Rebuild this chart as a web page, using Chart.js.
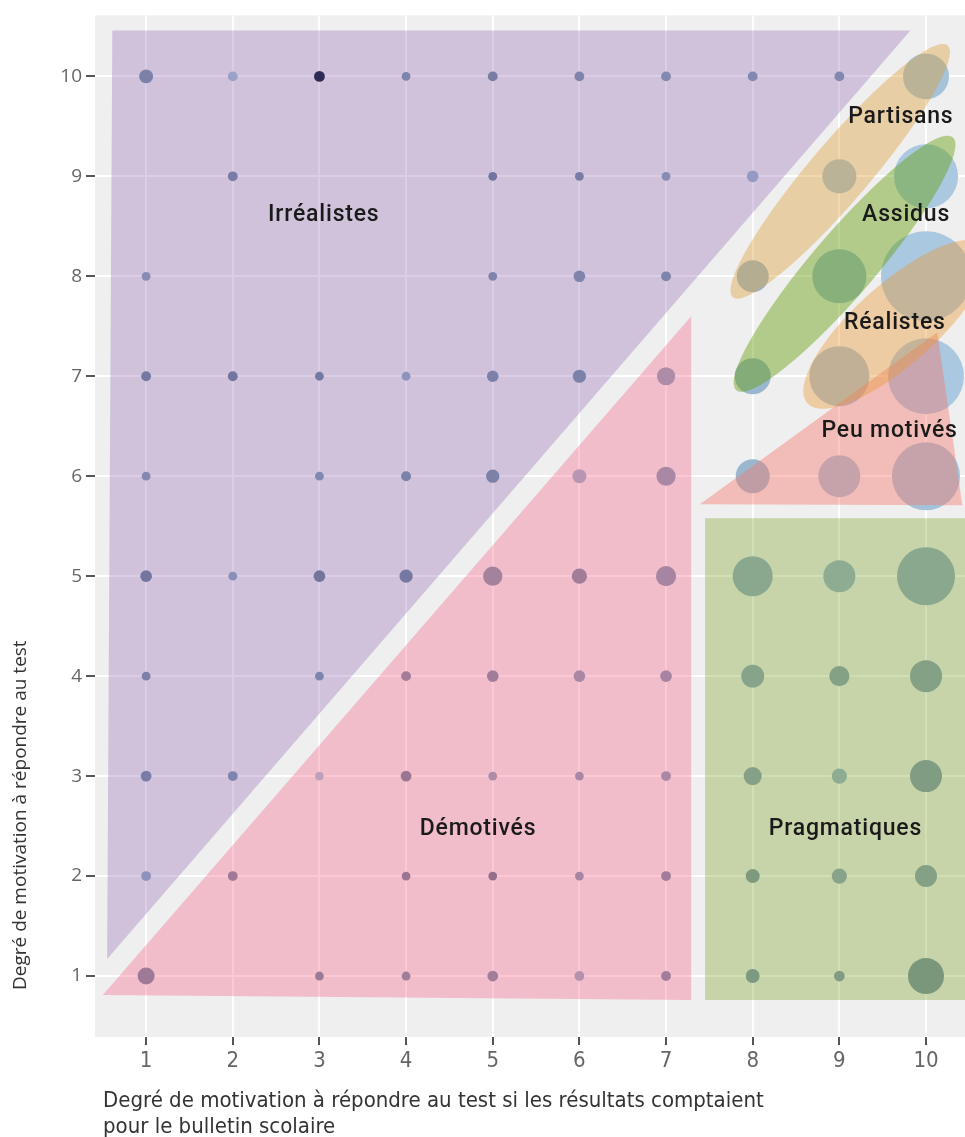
<!DOCTYPE html>
<html lang="fr">
<head>
<meta charset="utf-8">
<title>Motivation au test</title>
<script src="https://cdn.jsdelivr.net/npm/chart.js@4.4.1/dist/chart.umd.min.js"></script>
<style>
  html, body { margin: 0; padding: 0; background: #fff; }
  #cadre { width: 965px; height: 1137px; position: relative; }
</style>
</head>
<body>
<div id="cadre"><canvas id="graphique"></canvas></div>
<script>
// notes de 1 a 10 sur les deux axes
const notes = [1, 2, 3, 4, 5, 6, 7, 8, 9, 10];
// une ligne par valeur de y (de 10 en haut a 1 en bas)
const lignesY = [10, 9, 8, 7, 6, 5, 4, 3, 2, 1];

// effectifs par case (colonnes x = 1..10), null = pas d'eleve
const effectifs = [
  [10, 5, 6, 4, 5, 5, 5, 5, 5, 109],
  [null, 5, null, null, 4, 4, 4, 7, 60, 212],
  [4, null, null, null, 4, 7, 5, 53, 151, 418],
  [5, 5, 4, 4, 7, 9, 17, 67, 186, 298],
  [4, null, 4, 5, 9, 10, 19, 60, 91, 239],
  [7, 4, 7, 9, 19, 12, 21, 83, 53, 174],
  [4, null, 4, 5, 7, 7, 7, 27, 21, 53],
  [6, 5, 4, 6, 4, 4, 5, 17, 12, 53],
  [5, 5, null, 4, 4, 4, 5, 10, 12, 25],
  [15, null, 4, 4, 6, 5, 5, 10, 6, 67]
];

// valeur de la couleur des points (0 = fonce, 1 = clair)
const teintes = [
  [0.67, 0.94, 0.00, 0.70, 0.64, 0.70, 0.73, 0.73, 0.73, 0.94],
  [null, 0.64, null, null, 0.58, 0.64, 0.76, 0.88, 0.94, 0.97],
  [0.76, null, null, null, 0.70, 0.70, 0.70, 0.88, 0.91, 0.97],
  [0.61, 0.58, 0.61, 0.82, 0.67, 0.67, 0.76, 0.88, 0.94, 0.97],
  [0.73, null, 0.73, 0.67, 0.67, 0.85, 0.73, 0.88, 0.94, 0.94],
  [0.58, 0.79, 0.58, 0.61, 0.67, 0.64, 0.70, 0.82, 0.85, 0.82],
  [0.67, null, 0.70, 0.64, 0.64, 0.73, 0.70, 0.79, 0.76, 0.76],
  [0.64, 0.70, 0.94, 0.58, 0.76, 0.73, 0.73, 0.76, 0.85, 0.73],
  [0.82, 0.61, null, 0.58, 0.52, 0.70, 0.64, 0.70, 0.79, 0.76],
  [0.61, null, 0.61, 0.64, 0.64, 0.82, 0.64, 0.70, 0.73, 0.67]
];

// zones de profils (sommets en unites des axes)
const zones = [
  { couleur: 'rgba(133,90,170,0.30)', sommets: [[0.61, 10.46], [9.82, 10.46], [0.55, 1.17]] },
  { couleur: 'rgba(246,97,134,0.35)', sommets: [[0.50, 0.81], [7.29, 7.60], [7.29, 0.76]] },
  { couleur: 'rgba(126,160,40,0.35)', sommets: [[7.45, 5.58], [10.7, 5.58], [10.7, 0.76], [7.45, 0.76]] },
  { couleur: 'rgba(248,115,102,0.40)', sommets: [[7.39, 5.72], [10.13, 7.44], [10.42, 5.71]] }
];

// ellipses : extremites du grand axe, largeur relative
const ellipses = [
  { couleur: 'rgba(220,158,52,0.40)', de: [7.77, 7.79], a: [10.25, 10.31], largeur: 0.18 },
  { couleur: 'rgba(235,150,50,0.40)', de: [8.63, 6.73], a: [10.68, 8.31], largeur: 0.34 },
  { couleur: 'rgba(105,160,15,0.45)', de: [7.81, 6.86], a: [10.31, 9.39], largeur: 0.19 }
];

const etiquettes = [
  ['Irréalistes', 3.05, 8.61],
  ['Partisans', 9.71, 9.59],
  ['Assidus', 9.77, 8.61],
  ['Réalistes', 9.64, 7.53],
  ['Peu motivés', 9.58, 6.45],
  ['Démotivés', 4.83, 2.47],
  ['Pragmatiques', 9.07, 2.47]
];

const titreX = ['Degré de motivation à répondre au test si les résultats comptaient', 'pour le bulletin scolaire'];
const titreY = 'Degré de motivation à répondre au test';

function couleurPoint(t) {
  const fonce = [10, 25, 50], clair = [175, 205, 228];
  const c = fonce.map((v, i) => Math.round(v + (clair[i] - v) * t));
  return 'rgb(' + c.join(',') + ')';
}

const points = [];
const couleurs = [];
lignesY.forEach((y, i) => {
  notes.forEach((x, j) => {
    const n = effectifs[i][j];
    if (n == null) return;
    points.push({ x: x, y: y, r: 2.2 * Math.sqrt(n) });
    couleurs.push(couleurPoint(teintes[i][j]));
  });
});

const polygones = zones.map(z => ({
  type: 'line',
  data: z.sommets.concat([z.sommets[0]]).map(s => ({ x: s[0], y: s[1] })),
  backgroundColor: z.couleur,
  borderColor: 'rgba(0,0,0,0)',
  borderWidth: 0,
  pointRadius: 0,
  tension: 0,
  fill: 'shape',
  order: 1
}));

const fondPanneau = {
  id: 'fondPanneau',
  beforeDraw(chart) {
    const a = chart.chartArea, ctx = chart.ctx;
    ctx.save();
    ctx.fillStyle = '#efefef';
    ctx.fillRect(a.left, a.top, a.right - a.left, a.bottom - a.top);
    ctx.restore();
  }
};

const formes = {
  id: 'formes',
  afterDatasetsDraw(chart) {
    const ctx = chart.ctx, a = chart.chartArea;
    const sx = chart.scales.x, sy = chart.scales.y;
    ctx.save();
    ctx.beginPath();
    ctx.rect(a.left, a.top, a.right - a.left, a.bottom - a.top);
    ctx.clip();
    ellipses.forEach(e => {
      const x1 = sx.getPixelForValue(e.de[0]), y1 = sy.getPixelForValue(e.de[1]);
      const x2 = sx.getPixelForValue(e.a[0]), y2 = sy.getPixelForValue(e.a[1]);
      const demi = Math.hypot(x2 - x1, y2 - y1) / 2;
      ctx.beginPath();
      ctx.ellipse((x1 + x2) / 2, (y1 + y2) / 2, demi, demi * e.largeur, Math.atan2(y2 - y1, x2 - x1), 0, Math.PI * 2);
      ctx.fillStyle = e.couleur;
      ctx.fill();
    });
    ctx.fillStyle = '#1a1a1a';
    ctx.font = "500 23px Roboto, sans-serif";
    ctx.textAlign = 'center';
    ctx.textBaseline = 'middle';
    if ('letterSpacing' in ctx) ctx.letterSpacing = '0.8px';
    etiquettes.forEach(t => {
      ctx.fillText(t[0], sx.getPixelForValue(t[1]), sy.getPixelForValue(t[2]));
    });
    ctx.restore();
  }
};

const titresAxes = {
  id: 'titresAxes',
  afterDraw(chart) {
    const ctx = chart.ctx, a = chart.chartArea;
    ctx.save();
    ctx.fillStyle = '#333';
    ctx.font = "19px 'Open Sans', sans-serif";
    ctx.textAlign = 'left';
    ctx.textBaseline = 'middle';
    ctx.translate(21, a.bottom - 47);
    ctx.rotate(-Math.PI / 2);
    ctx.fillText(titreY, 0, 0);
    ctx.restore();

    ctx.save();
    ctx.fillStyle = '#333';
    ctx.font = "22px 'Liberation Sans Narrow', 'DejaVu Sans Condensed', sans-serif";
    ctx.textAlign = 'left';
    ctx.textBaseline = 'middle';
    ctx.fillText(titreX[0], 103, a.bottom + 64);
    ctx.fillText(titreX[1], 103, a.bottom + 90);
    ctx.restore();
  }
};

new Chart(document.getElementById('graphique'), {
  type: 'bubble',
  data: {
    datasets: [{
      label: 'effectifs',
      data: points,
      backgroundColor: couleurs,
      borderWidth: 0,
      order: 10
    }].concat(polygones)
  },
  options: {
    responsive: true,
    maintainAspectRatio: false,
    animation: false,
    events: [],
    layout: { autoPadding: false, padding: { top: 15, right: 0, bottom: 0, left: 0 } },
    plugins: {
      legend: { display: false },
      tooltip: { enabled: false }
    },
    scales: {
      x: {
        type: 'linear',
        min: 0.41,
        max: 10.45,
        afterBuildTicks: s => { s.ticks = notes.map(v => ({ value: v })); },
        afterFit: s => { s.height = 100; },
        border: { display: false },
        grid: { color: '#ffffff', lineWidth: 2, tickColor: '#555', tickWidth: 2, tickLength: 8 },
        ticks: {
          color: '#666',
          padding: 3,
          maxRotation: 0,
          font: { family: "'Liberation Sans Narrow', 'DejaVu Sans Condensed', sans-serif", size: 22 }
        }
      },
      y: {
        type: 'linear',
        min: 0.39,
        max: 10.61,
        afterBuildTicks: s => { s.ticks = lignesY.map(v => ({ value: v })); },
        afterFit: s => { s.width = 95; },
        border: { display: false },
        grid: { color: '#ffffff', lineWidth: 2, tickColor: '#555', tickWidth: 2, tickLength: 9 },
        ticks: {
          color: '#666',
          padding: 4,
          font: { family: "'Open Sans', sans-serif", size: 19 }
        }
      }
    }
  },
  plugins: [fondPanneau, formes, titresAxes]
});
</script>
</body>
</html>
